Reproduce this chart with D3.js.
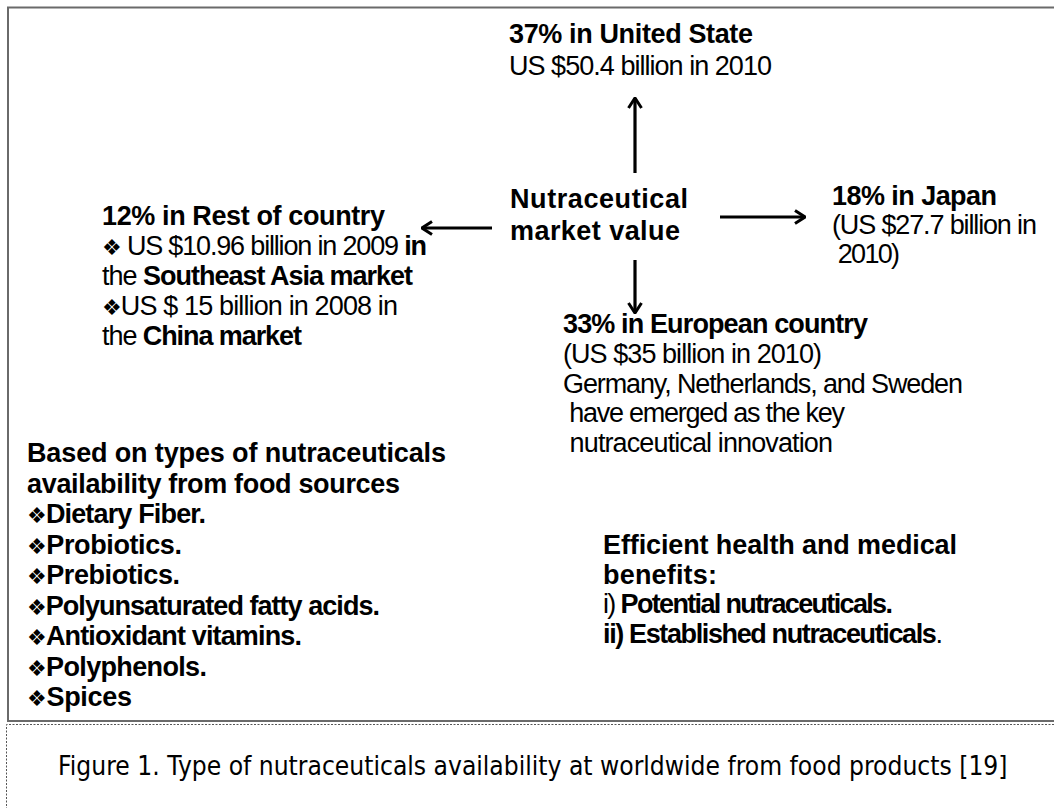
<!DOCTYPE html>
<html>
<head>
<meta charset="utf-8">
<script src="https://cdn.jsdelivr.net/npm/d3@7"></script>
<style>
  html, body { margin: 0; padding: 0; background: #fff; }
  svg { display: block; }
</style>
</head>
<body>
<svg id="chart" width="1054" height="808"></svg>
<script>
// ---------------- DATA (text content) ----------------
// each line = list of [text, weight] segments ("b" bold, "r" regular, "d" diamond bullet)
const centerLabel = [
  [["Nutraceutical", "b"]],
  [["market value", "b"]]
];
const unitedStates = [
  [["37% in United State", "b"]],
  [["US $50.4 billion in 2010", "r"]]
];
const japan = [
  [["18% in Japan", "b"]],
  [["(US $27.7 billion in", "r"]],
  [[" 2010)", "r"]]
];
const restOfCountry = [
  [["12% in Rest of country", "b"]],
  [["\u2756", "d"], [" US $10.96 billion in 2009 ", "r"], ["in", "b"]],
  [["the ", "r"], ["Southeast Asia market", "b"]],
  [["\u2756", "d"], ["US $ 15 billion in 2008 in", "r"]],
  [["the ", "r"], ["China market", "b"]]
];
const europe = [
  [["33% in European country", "b"]],
  [["(US $35 billion in 2010)", "r"]],
  [["Germany, Netherlands, and Sweden", "r"]],
  [[" have emerged as the key", "r"]],
  [[" nutraceutical innovation", "r"]]
];
const foodSourceTitle = ["Based on types of nutraceuticals", "availability from food sources"];
const foodSources = ["Dietary Fiber.", "Probiotics.", "Prebiotics.", "Polyunsaturated fatty acids.",
                     "Antioxidant vitamins.", "Polyphenols.", "Spices"];
const benefits = [
  [["Efficient health and medical", "b"]],
  [["benefits:", "b"]],
  [["i) ", "r"], ["Potential nutraceuticals.", "b"]],
  [["ii) Established nutraceuticals", "b"], [".", "r"]]
];
const caption = "Figure 1. Type of nutraceuticals availability at worldwide from food products [19]";

// arrows from the centre node: direction labels
const arrowDirs = ["up", "right", "down", "left"];

// ---------------- LAYOUT ----------------
const W = 1054, H = 808;
const FONT = "'Liberation Sans', Arial, sans-serif";
const FS = 27;

// x, first baseline, line step, fitted line widths (px)
const layout = {
  center:  { x: 510, y: 208, dy: 32,   w: [178, 170] },
  us:      { x: 509, y: 43,  dy: 32,   w: [244, 263] },
  japan:   { x: 832, y: 205, dy: 29,   w: [165, 205, 68] },
  rest:    { x: 102, y: 225, dy: 30,   w: [283, 325, 311, 296, 200] },
  europe:  { x: 563, y: 333, dy: 29.8, w: [305, 259, 400, 282, 270] },
  food:    { x: 27,  y: 462, dy: 30.5, w: [419, 373, 179, 155, 153, 353, 275, 180, 105] },
  benefit: { x: 603, y: 554, dy: 29.7, w: [354, 114, 290, 340] }
};
const arrowGeom = {
  up:    { x1: 635, y1: 173, x2: 635, y2: 98 },
  right: { x1: 720, y1: 217, x2: 805, y2: 217 },
  down:  { x1: 635, y1: 260, x2: 635, y2: 313 },
  left:  { x1: 492, y1: 228, x2: 422, y2: 228 }
};

const svg = d3.select("#chart");

// main frame
svg.append("rect")
  .attr("x", 8).attr("y", 7.5)
  .attr("width", W + 10).attr("height", 713.5)
  .attr("fill", "none").attr("stroke", "#6a6a6a").attr("stroke-width", 2);

// caption dashed frame
svg.append("path")
  .attr("d", `M6.5,${H + 5} L6.5,724.5 L${W + 5},724.5`)
  .attr("fill", "none").attr("stroke", "#555").attr("stroke-width", 1)
  .attr("stroke-dasharray", "2,1.5");

// ---------------- TEXT BLOCKS ----------------
function drawBlock(lines, pos) {
  const g = svg.append("g");
  lines.forEach((segs, i) => {
    const t = g.append("text")
      .attr("x", pos.x)
      .attr("y", pos.y + i * pos.dy)
      .attr("xml:space", "preserve")
      .attr("font-family", FONT)
      .attr("font-size", FS)
      .attr("fill", "#000");
    if (pos.w && pos.w[i]) t.attr("textLength", pos.w[i]).attr("lengthAdjust", "spacing");
    segs.forEach(([txt, w]) => {
      const ts = t.append("tspan").text(txt);
      if (w === "b") ts.attr("font-weight", "bold");
      if (w === "d") ts.attr("font-family", "'DejaVu Sans', sans-serif").attr("font-size", 22)
                        .attr("font-weight", "normal");
    });
  });
}

drawBlock(centerLabel, layout.center);
drawBlock(unitedStates, layout.us);
drawBlock(japan, layout.japan);
drawBlock(restOfCountry, layout.rest);
drawBlock(europe, layout.europe);
drawBlock(
  foodSourceTitle.map(s => [[s, "b"]]).concat(foodSources.map(s => [["\u2756", "d"], [s, "b"]])),
  layout.food
);
drawBlock(benefits, layout.benefit);

// ---------------- ARROWS ----------------
const defs = svg.append("defs");
defs.append("marker")
  .attr("id", "chev")
  .attr("viewBox", "0 0 12 16")
  .attr("refX", 11).attr("refY", 8)
  .attr("markerWidth", 12).attr("markerHeight", 16)
  .attr("markerUnits", "userSpaceOnUse")
  .attr("orient", "auto")
  .append("path")
  .attr("d", "M1,1.5 L11,8 L1,14.5")
  .attr("fill", "none").attr("stroke", "#000").attr("stroke-width", 3)
  .attr("stroke-linejoin", "miter");

svg.append("g").selectAll("line")
  .data(arrowDirs)
  .join("line")
  .attr("x1", d => arrowGeom[d].x1).attr("y1", d => arrowGeom[d].y1)
  .attr("x2", d => arrowGeom[d].x2).attr("y2", d => arrowGeom[d].y2)
  .attr("stroke", "#000").attr("stroke-width", 3.2)
  .attr("marker-end", "url(#chev)");

// ---------------- CAPTION ----------------
const capX = 58, capY = 775, capW = 950;
const capG = svg.append("g");
const capText = capG.append("text")
  .attr("x", 0).attr("y", 0)
  .attr("font-family", "'DejaVu Sans', Verdana, sans-serif")
  .attr("font-size", 26)
  .attr("fill", "#000")
  .text(caption);
const natural = capText.node().getComputedTextLength();
const sx = natural > 0 ? capW / natural : 1;
capG.attr("transform", `translate(${capX},${capY}) scale(${sx},1)`);
</script>
</body>
</html>
